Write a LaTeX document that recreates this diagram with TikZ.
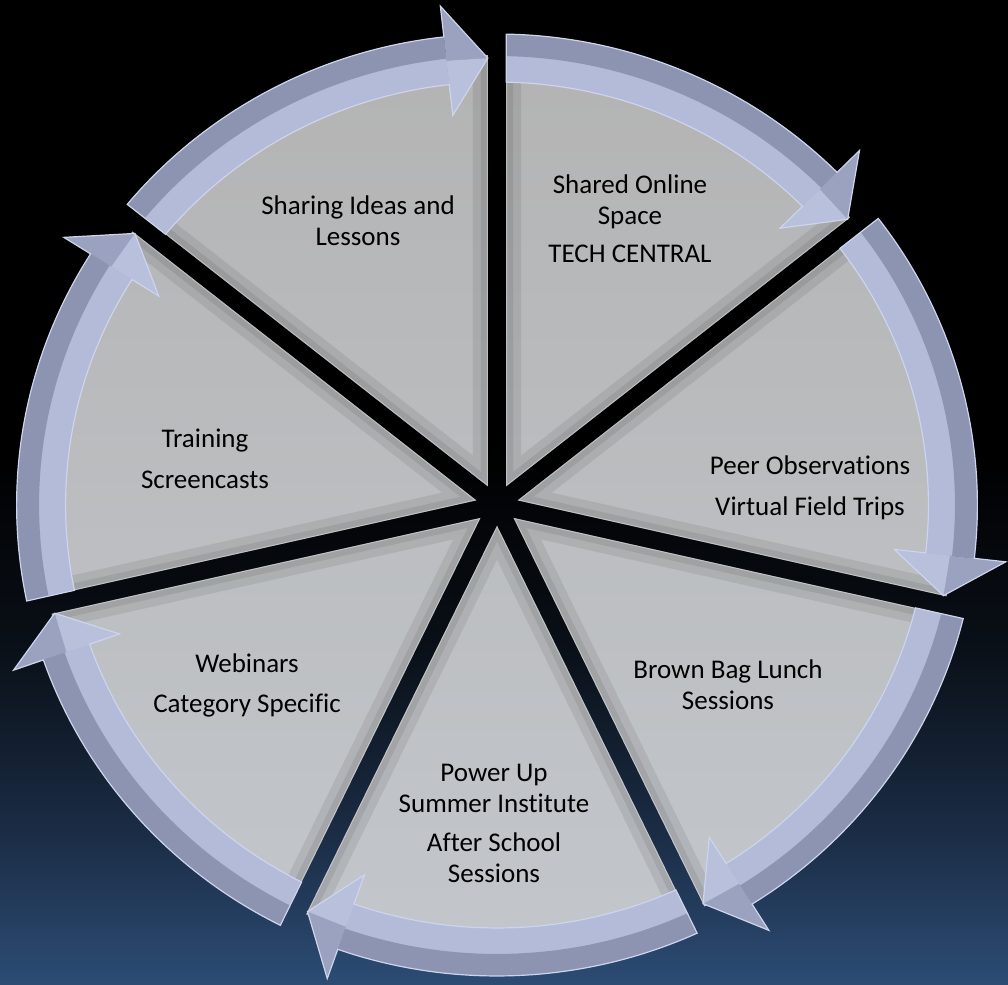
\documentclass[tikz,border=0pt]{standalone}
\usepackage{fontspec}
\setmainfont[RawFeature={-liga;-clig}]{Carlito}
\definecolor{bgbot}{HTML}{2C4C74}
\definecolor{bgmA}{HTML}{1A2B43}
\definecolor{bgmB}{HTML}{0A1018}
\definecolor{ringdarkc}{HTML}{8C94B2}
\definecolor{ringlightc}{HTML}{B3BBD8}
\definecolor{headdarkc}{HTML}{9AA2C0}
\definecolor{headlightc}{HTML}{B8C0DC}
\definecolor{ringedgec}{HTML}{CDD4EC}
\definecolor{wedgetop}{HTML}{B3B3B3}
\definecolor{wedgebot}{HTML}{C3C7CC}
\pgfdeclareverticalshading{bgshade}{100bp}{color(0bp)=(bgbot); color(25bp)=(bgbot); color(33bp)=(bgmA); color(42bp)=(bgmB); color(52bp)=(black); color(100bp)=(black)}
\usetikzlibrary{calc}
\begin{document}
\begin{tikzpicture}[x=1pt,y=1pt,
  lbl/.style={font=\fontsize{27}{31}\selectfont, align=center, text=black, inner sep=0pt},
  ringlight/.style={fill=ringlightc},
  ringdark/.style={fill=ringdarkc},
  headdark/.style={fill=headdarkc},
  headlight/.style={fill=headlightc},
  ringedge/.style={draw=ringedgec, line width=1.2pt, line join=miter},
  bevel/.style={draw=black, opacity=0.08}]
\useasboundingbox (0,0) rectangle (1008,984);
\shade[shading=bgshade] (0,0) rectangle (1008,984);
\begin{scope}[shift={(497,479)}, xscale=1.02]
  % gray wedges with one common gradient
  \begin{scope}
    \clip \foreach \k [evaluate=\k as \B using 64.2857-51.4286*\k] in {0,...,6}
      { ({\B}:20.74) -- ({\B+24.568}:450) arc[start angle={\B+24.568}, end angle={\B-24.568}, radius=450] -- cycle };
    \shade[top color=wedgetop, bottom color=wedgebot] (0,0) circle[radius=470];
  \end{scope}
  % bevelled edges of the wedges
  \foreach \k [evaluate=\k as \B using 64.2857-51.4286*\k] in {0,...,6}{
    \begin{scope}
      \clip ({\B}:20.74) -- ({\B+24.568}:450) arc[start angle={\B+24.568}, end angle={\B-24.568}, radius=450] -- cycle;
      \draw[bevel, line width=30pt] ({\B}:20.74) -- ({\B+24.568}:450) arc[start angle={\B+24.568}, end angle={\B-24.568}, radius=450] -- cycle;
      \draw[bevel, line width=14pt] ({\B}:20.74) -- ({\B+24.568}:450) arc[start angle={\B+24.568}, end angle={\B-24.568}, radius=450] -- cycle;
      \draw[white, opacity=0.35, line width=2pt] ({\B}:20.74) -- ({\B+24.568}:450) arc[start angle={\B+24.568}, end angle={\B-24.568}, radius=450] -- cycle;
    \end{scope}
  }
  % curved arrows of the ring
  \foreach \k in {0,...,6}{
    \begin{scope}[rotate={64.2857-51.4286*\k}]
      \fill[ringlight] (24.619:471) arc[start angle=24.619, end angle=-19.36, radius=471]
        -- (-19.36:423) arc[start angle=-19.36, end angle=24.495, radius=423] -- cycle;
      \fill[ringdark] (24.619:471) arc[start angle=24.619, end angle=-19.36, radius=471]
        -- (-19.36:449) arc[start angle=-19.36, end angle=24.56, radius=449] -- cycle;
      \fill[headdark] (-19.36:502) -- (-24.56:447) -- (-19.36:447) -- cycle;
      \fill[headlight] (-19.36:447) -- (-24.56:447) -- (-19.36:392) -- cycle;
      \draw[ringedge] (24.619:471) arc[start angle=24.619, end angle=-19.36, radius=471]
        -- (-19.36:502) -- (-24.56:447) -- (-19.36:392) -- (-19.36:423)
        arc[start angle=-19.36, end angle=24.495, radius=423] -- cycle;
    \end{scope}
  }
\end{scope}
% labels
\node[lbl] (sharing)  at (358,763) {Sharing Ideas and\\Lessons};
\node[lbl] (shared)   at (630,765) {Shared Online\\Space\\[7pt]TECH CENTRAL};
\node[lbl] (training) at (205,525) {Training\\[10pt]Screencasts};
\node[lbl] (peer)     at (810,496) {Peer Observations\\[10pt]Virtual Field Trips};
\node[lbl] (webinars) at (247,299) {Webinars\\[9pt]Category Specific};
\node[lbl] (brown)    at (728,299) {Brown Bag Lunch\\Sessions};
\node[lbl] (power)    at (494,161) {Power Up\\Summer Institute\\[8pt]After School\\Sessions};
\end{tikzpicture}
\end{document}
